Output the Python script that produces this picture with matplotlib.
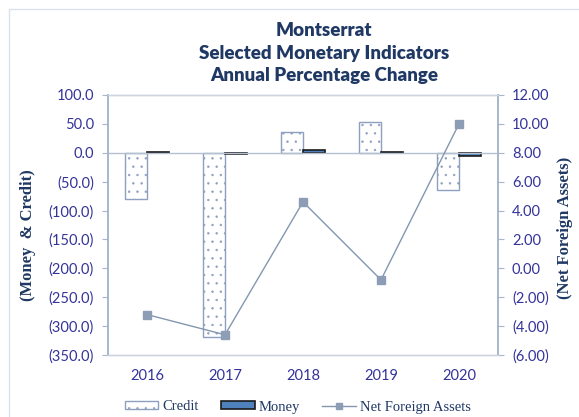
import matplotlib
matplotlib.use("Agg")
import matplotlib.pyplot as plt
import numpy as np
from matplotlib.patches import Rectangle
from matplotlib.lines import Line2D
from matplotlib.ticker import FuncFormatter, MultipleLocator

years = ["2016", "2017", "2018", "2019", "2020"]
credit = [-80.5, -318.0, 35.5, 53.0, -65.0]
money = [2.0, -2.0, 4.0, 2.0, -6.0]
nfa = [-3.2, -4.6, 4.6, -0.8, 10.0]

TICK_C = "#333399"
NAVY = "#1F3864"
SPINE_C = "#A7B6CB"
LINE_C = "#8497B0"

plt.rcParams["hatch.linewidth"] = 0.5
plt.rcParams["hatch.color"] = "#7F98C4"

fig = plt.figure(figsize=(5.79, 4.17), dpi=100)
ax1 = fig.add_axes([108/579, 62/417, 390/579, 260/417])
ax2 = ax1.twinx()

x = np.arange(len(years))
w = 0.28
ax1.bar(x - w/2, credit, width=w, color="white", edgecolor="#8EA0C0",
        hatch="..", linewidth=1.0, label="Credit", zorder=2)
ax1.bar(x + w/2, money, width=w, color="#4F81BD", edgecolor="#1A1A1A",
        linewidth=1.2, label="Money", zorder=2)
ax1.axhline(0, color="#B4BFCF", lw=1.0, zorder=3)

ax1.set_xlim(-0.5, 4.5)
ax1.set_ylim(-350, 100)
ax1.yaxis.set_major_locator(MultipleLocator(50))

def fmt1(v, pos):
    return f"({abs(v):.1f})" if v < -1e-9 else f"{v:.1f}"

def fmt2(v, pos):
    return f"({abs(v):.2f})" if v < -1e-9 else f"{v:.2f}"

ax1.yaxis.set_major_formatter(FuncFormatter(fmt1))
ax1.set_xticks(x)
ax1.set_xticklabels(years)

ax2.plot(x, nfa, color=LINE_C, lw=1.0, marker="s", markersize=6,
         markerfacecolor="#8C9DB5", markeredgecolor="#8C9DB5", label="Net Foreign Assets", zorder=4)
ax2.set_ylim(-6, 12)
ax2.yaxis.set_major_locator(MultipleLocator(2))
ax2.yaxis.set_major_formatter(FuncFormatter(fmt2))

for ax in (ax1, ax2):
    for s in ("left", "right"):
        ax.spines[s].set_color(SPINE_C)
        ax.spines[s].set_linewidth(1.2)
    for s in ("top", "bottom"):
        ax.spines[s].set_color("#CDD5E0")
        ax.spines[s].set_linewidth(1.0)

ax1.tick_params(axis="y", direction="out", length=4, color=SPINE_C,
                labelcolor=TICK_C, labelsize=10.5, pad=6)
ax1.tick_params(axis="x", length=0, labelcolor=TICK_C, labelsize=10.5, pad=10)
ax2.tick_params(axis="y", direction="out", length=4, color=SPINE_C,
                labelcolor=TICK_C, labelsize=10.5, pad=6)
for lab in ax1.get_yticklabels() + ax1.get_xticklabels() + ax2.get_yticklabels():
    lab.set_fontfamily("Lato")

fig.text(28/579, 1 - 235/417, "(Money  & Credit)", rotation=90, ha="center", va="center",
         fontfamily="Liberation Serif", fontweight="bold", fontsize=12, color=NAVY)
fig.text(565/579, 1 - 228/417, "(Net Foreign Assets)", rotation=90, ha="center", va="center",
         fontfamily="Liberation Serif", fontweight="bold", fontsize=12, color=NAVY)

for txt, yy in [("Montserrat", 31), ("Selected Monetary Indicators", 53),
                ("Annual Percentage Change", 75)]:
    fig.text(324/579, 1 - yy/417, txt, ha="center", va="center",
             fontfamily="Lato", fontweight="heavy", fontsize=13.5, color=NAVY)

handles = [
    Rectangle((0, 0), 1, 1, facecolor="white", edgecolor="#8EA0C0", hatch="..", lw=1.0),
    Rectangle((0, 0), 1, 1, facecolor="#4F81BD", edgecolor="#1A1A1A", lw=1.2),
    Line2D([], [], color=LINE_C, lw=1.0, marker="s", markersize=5,
           markerfacecolor="#8C9DB5", markeredgecolor="#8C9DB5"),
]
fig.legend(handles, ["Credit", "Money", "Net Foreign Assets"], loc="center",
           bbox_to_anchor=(298/579, 1 - 407/417), ncol=3, frameon=False,
           prop={"family": "Liberation Serif", "size": 10.5}, labelcolor=NAVY,
           handlelength=2.3, handleheight=0.5, handletextpad=0.3, columnspacing=1.5)

fig.patches.append(Rectangle((9/579, -0.05), 1.0, 1 - 9/417 + 0.05, transform=fig.transFigure,
                             fill=False, edgecolor="#D9E1EC", lw=1.0))

fig.savefig("out.png", dpi=100)
